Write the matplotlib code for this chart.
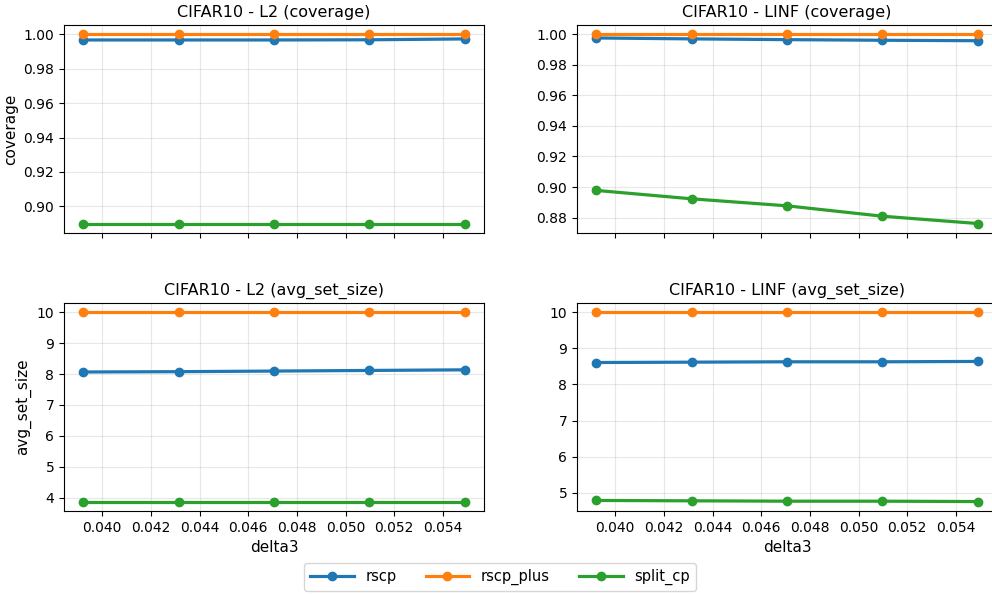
import matplotlib
matplotlib.use("Agg")
import matplotlib.pyplot as plt

delta3 = [10/255, 11/255, 12/255, 13/255, 14/255]
methods = ["rscp", "rscp_plus", "split_cp"]
colors = ["#1f77b4", "#ff7f0e", "#2ca02c"]

l2_coverage = {
    "rscp": [0.9967, 0.9967, 0.9967, 0.9968, 0.9973],
    "rscp_plus": [0.9999, 0.9999, 0.9999, 0.9999, 0.9999],
    "split_cp": [0.890, 0.890, 0.890, 0.890, 0.890],
}
linf_coverage = {
    "rscp": [0.9976, 0.9970, 0.9965, 0.9961, 0.9958],
    "rscp_plus": [0.9999, 0.9999, 0.9999, 0.9999, 0.9999],
    "split_cp": [0.8978, 0.8923, 0.8877, 0.8809, 0.8761],
}
l2_size = {
    "rscp": [8.07, 8.08, 8.10, 8.12, 8.14],
    "rscp_plus": [10.0, 10.0, 10.0, 10.0, 10.0],
    "split_cp": [3.87, 3.87, 3.87, 3.87, 3.87],
}
linf_size = {
    "rscp": [8.61, 8.62, 8.63, 8.63, 8.64],
    "rscp_plus": [10.0, 10.0, 10.0, 10.0, 10.0],
    "split_cp": [4.78, 4.77, 4.76, 4.76, 4.75],
}

W, H = 992, 595
fig = plt.figure(figsize=(W/100, H/100), dpi=100)

def box(l, t, r, b):
    return [l/W, (H-b)/H, (r-l)/W, (b-t)/H]

panels = [
    (box(64, 25, 484, 233), l2_coverage, "CIFAR10 - L2 (coverage)", "coverage", False),
    (box(577, 25, 997, 233), linf_coverage, "CIFAR10 - LINF (coverage)", None, False),
    (box(64, 303, 484, 511), l2_size, "CIFAR10 - L2 (avg_set_size)", "avg_set_size", True),
    (box(577, 303, 997, 511), linf_size, "CIFAR10 - LINF (avg_set_size)", None, True),
]

handles = []
for pos, data, title, ylabel, show_x in panels:
    ax = fig.add_axes(pos)
    hs = []
    for m, c in zip(methods, colors):
        h, = ax.plot(delta3, data[m], marker="o", color=c, linewidth=2.3, markersize=6, label=m)
        hs.append(h)
    handles = hs
    ax.set_title(title, fontsize=11.5)
    ax.grid(True, alpha=0.3)
    ax.tick_params(labelsize=10)
    if ylabel:
        ax.set_ylabel(ylabel, fontsize=11)
    if show_x:
        ax.set_xlabel("delta3", fontsize=11)
    else:
        ax.tick_params(labelbottom=False)

fig.legend(handles, methods, loc="center", bbox_to_anchor=(500/W, (H-577)/H),
           ncol=3, fontsize=10.5, frameon=True, handlelength=3, columnspacing=2)

fig.savefig("out.png", dpi=100)
